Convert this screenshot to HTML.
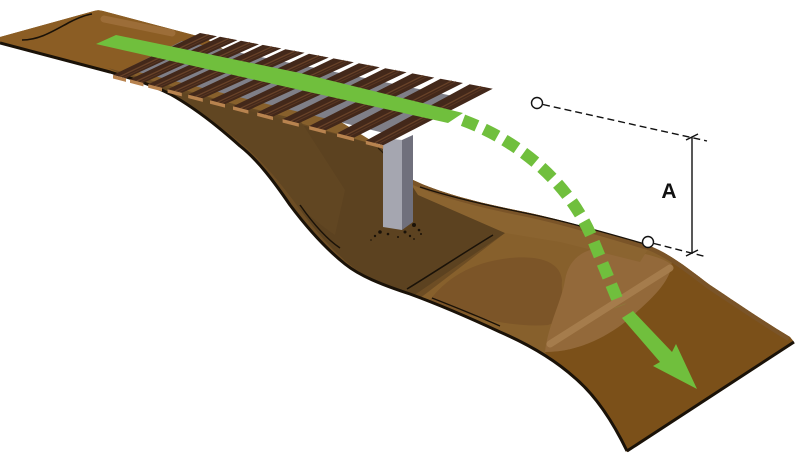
<!DOCTYPE html>
<html><head><meta charset="utf-8"><style>
html,body{margin:0;padding:0;background:#fff;}
svg{display:block;}
</style></head><body>
<svg width="800" height="460" viewBox="0 0 800 460" xmlns="http://www.w3.org/2000/svg">
<defs>
<clipPath id="tr"><path d="M0,37 L94,11 Q98,9.5 103,11 L205,38 L380,146 Q398,163 413,180 C440,193 480,203 520,211 C560,219 610,234 650,246 C672,255 690,270 710,285 C740,305 765,322 790,337 L794,342 L627,452 C612,420 595,395 575,378 C555,360 530,345 500,332 C470,318 440,305 410,294 C380,284 360,276 345,264 C325,248 305,225 290,205 C275,183 258,160 240,146 C220,128 195,108 170,94 C150,84 130,78 110,72 L0,43 Z"/></clipPath>
</defs>
<rect width="800" height="460" fill="#fff"/>
<path d="M0,37 L94,11 Q98,9.5 103,11 L205,38 L380,146 Q398,163 413,180 C440,193 480,203 520,211 C560,219 610,234 650,246 C672,255 690,270 710,285 C740,305 765,322 790,337 L794,342 L627,452 C612,420 595,395 575,378 C555,360 530,345 500,332 C470,318 440,305 410,294 C380,284 360,276 345,264 C325,248 305,225 290,205 C275,183 258,160 240,146 C220,128 195,108 170,94 C150,84 130,78 110,72 L0,43 Z" fill="#87602c"/>
<g clip-path="url(#tr)">
  <path d="M0,34 L97,8 L215,40 L113,78 L0,46Z" fill="#8b5d24"/>
  <path d="M104,19 L172,33" stroke="#a2733f" stroke-width="7" stroke-linecap="round" opacity="0.75"/>
  <path d="M650,240 C700,262 750,305 800,337 L800,460 L600,460 L545,352 C580,352 610,335 630,318 C650,300 668,284 672,262 Z" fill="#7b5019"/>
  <path d="M430,300 C445,280 470,262 510,258 C540,255 560,262 562,280 C560,300 572,318 548,325 C510,328 465,316 430,300 Z" fill="#7c5528"/>
  <path d="M545,352 C548,325 562,300 565,280 C568,262 580,250 600,248 C630,250 660,255 672,265 C668,285 650,300 630,318 C610,335 580,352 545,352 Z" fill="#93693a"/>
  <path d="M550,344 L670,268" stroke="#a98050" stroke-width="7" stroke-linecap="round" opacity="0.85"/>
  <path d="M108,68 L380,146 Q398,163 413,182 L505,233 L415,302 L340,278 L280,205 L225,140 L160,92 Z" fill="#6d4d24"/>
  <path d="M112,74 L380,146 Q398,163 413,184 L505,233 L413,296 C395,290 372,281 354,268 C332,251 314,229 299,208 C283,186 266,165 247,148 C226,130 201,112 176,98 C156,88 136,80 112,74 Z" fill="#5c4220"/>
  <path d="M160,86 L300,120 L345,190 L335,235 C320,225 310,215 299,208 C283,186 266,165 247,148 C226,130 201,112 176,98 Z" fill="#634723" opacity="0.8"/>
  <path d="M405,175 C450,192 510,207 560,220 C600,230 630,238 650,246 L640,262 L560,242 L505,233 L418,195 Z" fill="#8b6430"/>
  <path d="M413,180 C440,193 480,203 520,211 C560,219 610,234 650,246 C672,255 690,270 710,285 C740,305 765,322 790,337" fill="none" stroke="#7a5428" stroke-width="9"/>
</g>
<path d="M627,451 C612,420 595,395 575,378 C555,360 530,345 500,332 C470,318 440,305 410,294 C380,284 360,276 345,264 C325,248 305,225 290,205 C275,183 258,160 240,146 C220,128 195,108 170,94 C150,84 130,78 110,72 L0,43" fill="none" stroke="#1a1208" stroke-width="3"/>
<path d="M627,451 L794,342" fill="none" stroke="#1a1208" stroke-width="3"/>
<path d="M22,40 C40,40 55,30 70,22 C78,18 85,15 92,14" fill="none" stroke="#1a1208" stroke-width="1.6"/>
<path d="M300,205 C312,222 325,238 340,248" fill="none" stroke="#1a1208" stroke-width="1.5"/>
<path d="M407,289 C430,275 465,252 493,235" fill="none" stroke="#1a1208" stroke-width="1.5"/>
<path d="M432,298 C460,309 482,318 500,326" fill="none" stroke="#1a1208" stroke-width="1.3"/>
<path d="M420,187 C450,197 490,206 525,213 C565,221 610,234 645,244" fill="none" stroke="#1a1208" stroke-width="1.3"/>
<path d="M378,148 Q390,158 397,172" fill="none" stroke="#2a1c0c" stroke-width="1.2"/>
<polygon points="383,138 402,140 402,230 383,227" fill="#a5a6b0"/>
<polygon points="402,140 413,135 413,222 402,230" fill="#70707c"/>
<g fill="#1a1208">
<circle cx="380" cy="232" r="1.8"/><circle cx="375" cy="236" r="1.2"/><circle cx="388" cy="234" r="1.3"/>
<circle cx="405" cy="232" r="1.5"/><circle cx="414" cy="225" r="2"/><circle cx="419" cy="230" r="1.3"/>
<circle cx="410" cy="236" r="1.2"/><circle cx="421" cy="234" r="1"/><circle cx="398" cy="237" r="1"/>
<circle cx="414" cy="239" r="0.9"/><circle cx="371" cy="240" r="0.8"/>
</g>
<polygon points="182,41 468,99 396,136 126,69" fill="#7f7f88"/>
<g fill="#43281a">
<polygon points="200,33 217,36.2 126,78.4 113,75"/>
<polygon points="220,36.8 237.55,40.1 143.4,82.9 130,79.4"/>
<polygon points="240.9,40.8 259,44.2 162,87.8 148.2,84.2"/>
<polygon points="262.7,44.9 281.35,48.4 181.8,92.9 167.6,89.2"/>
<polygon points="285.4,49.2 304.6,52.8 202.8,98.4 188.2,94.6"/>
<polygon points="309,53.7 328.75,57.5 225,104.1 210,100.2"/>
<polygon points="333.5,58.4 353.8,62.3 248.4,110.2 233,106.2"/>
<polygon points="358.9,63.2 379.75,67.2 273,116.6 257.2,112.5"/>
<polygon points="385.2,68.2 406.6,72.3 298.8,123.3 282.6,119.1"/>
<polygon points="412.4,73.4 434.35,77.6 325.8,130.3 309.2,126"/>
<polygon points="440.5,78.7 463,83 354,137.6 337,133.2"/>
<polygon points="469.7,84.3 492.75,88.7 383.2,145.2 365.8,140.7"/>
</g>
<path d="M208.5,34.6 L119.5,76.7 M228.8,38.5 L136.7,81.1 M250,42.5 L155.1,86 M272,46.7 L174.7,91.1 M295,51 L195.5,96.5 M318.9,55.6 L217.5,102.2 M343.7,60.3 L240.7,108.2 M369.3,65.2 L265.1,114.6 M395.9,70.2 L290.7,121.2 M423.4,75.5 L317.5,128.2 M451.8,80.8 L345.5,135.4 M481.2,86.5 L374.5,142.9" stroke="#6e462b" stroke-width="1.3" fill="none" opacity="0.85"/>
<path d="M208.5,34.6 L119.5,76.7 M228.8,38.5 L136.7,81.1 M250,42.5 L155.1,86 M272,46.7 L174.7,91.1 M295,51 L195.5,96.5 M318.9,55.6 L217.5,102.2 M343.7,60.3 L240.7,108.2 M369.3,65.2 L265.1,114.6 M395.9,70.2 L290.7,121.2 M423.4,75.5 L317.5,128.2 M451.8,80.8 L345.5,135.4 M481.2,86.5 L374.5,142.9" stroke="#5e3a24" stroke-width="1" fill="none" transform="translate(4,0.8)" opacity="0.8"/>
<g fill="#b8834f">
<polygon points="113,75 126,78.4 126,81.9 113,78.5"/>
<polygon points="130,79.4 143.4,82.9 143.4,86.4 130,82.9"/>
<polygon points="148.2,84.2 162,87.8 162,91.3 148.2,87.7"/>
<polygon points="167.6,89.2 181.8,92.9 181.8,96.4 167.6,92.7"/>
<polygon points="188.2,94.6 202.8,98.4 202.8,101.9 188.2,98.1"/>
<polygon points="210,100.2 225,104.1 225,107.6 210,103.7"/>
<polygon points="233,106.2 248.4,110.2 248.4,113.7 233,109.7"/>
<polygon points="257.2,112.5 273,116.6 273,120.1 257.2,116"/>
<polygon points="282.6,119.1 298.8,123.3 298.8,126.8 282.6,122.6"/>
<polygon points="309.2,126 325.8,130.3 325.8,133.8 309.2,129.5"/>
<polygon points="337,133.2 354,137.6 354,141.1 337,136.7"/>
<polygon points="365.8,140.7 383.2,145.2 383.2,148.7 365.8,144.2"/>
</g>
<polygon points="116,35 300,73 463,113 448,123 300,90 96,44" fill="#70bf3d"/>
<path d="M455.5,117.5 C515,138 570,180 595,245 L620,306" fill="none" stroke="#70bf3d" stroke-width="12" stroke-dasharray="15 8" stroke-dashoffset="15"/>
<polygon points="622,318 660,362 653,366 697,389 676,344 672,352 633,311" fill="#70bf3d"/>
<g stroke="#111" stroke-width="1.4" fill="none">
<path d="M543,104.5 L707,141" stroke-dasharray="7 4"/>
<path d="M654,243.5 L707,257" stroke-dasharray="7 4"/>
<path d="M692,137 L692,253"/>
<path d="M686,140 L698,134"/>
<path d="M686,256 L698,250"/>
<circle cx="537" cy="103" r="5.5" fill="#fff"/>
<circle cx="648" cy="242" r="5.5" fill="#fff"/>
</g>
<text x="669" y="198" font-family="Liberation Sans, Arial, sans-serif" font-weight="bold" font-size="21" text-anchor="middle" fill="#111">A</text>
</svg>
</body></html>
